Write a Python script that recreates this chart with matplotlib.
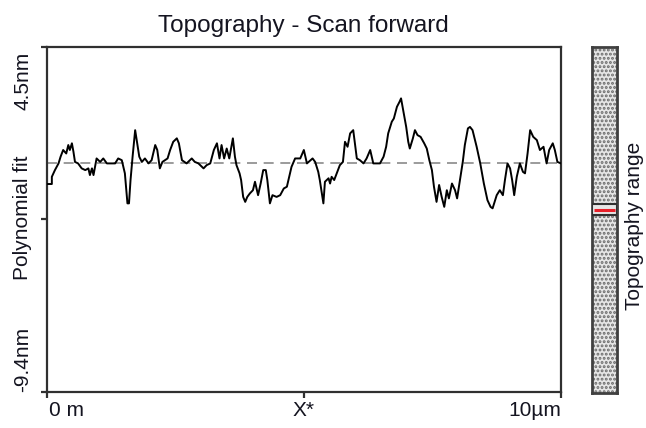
import matplotlib
matplotlib.use("Agg")
import matplotlib.pyplot as plt
from matplotlib.patches import Rectangle

# ---- data ----
x_um = [0.00, 0.10, 0.10, 0.16, 0.23, 0.27, 0.32, 0.38, 0.42, 0.45, 0.49, 0.52, 0.55, 0.61, 0.68,
        0.75, 0.81, 0.84, 0.88, 0.91, 0.94, 0.97, 1.04, 1.10, 1.17, 1.33, 1.39, 1.46, 1.49, 1.52,
        1.57, 1.60, 1.63, 1.67, 1.72, 1.75, 1.80, 1.85, 1.91, 1.98, 2.04, 2.11, 2.15, 2.20, 2.25,
        2.30, 2.35, 2.40, 2.46, 2.53, 2.57, 2.63, 2.72, 2.82, 2.88, 2.95, 3.05, 3.11, 3.18, 3.25,
        3.31, 3.36, 3.40, 3.45, 3.50, 3.55, 3.62, 3.66, 3.69, 3.75, 3.78, 3.82, 3.86, 3.90, 3.95,
        4.01, 4.05, 4.11, 4.16, 4.21, 4.26, 4.29, 4.34, 4.39, 4.47, 4.54, 4.61, 4.67, 4.70, 4.76,
        4.83, 4.93, 5.00, 5.06, 5.17, 5.22, 5.28, 5.31, 5.35, 5.38, 5.41, 5.48, 5.51, 5.54, 5.59,
        5.64, 5.70, 5.76, 5.80, 5.85, 5.90, 5.96, 6.03, 6.09, 6.16, 6.22, 6.29, 6.35, 6.48, 6.55,
        6.60, 6.64, 6.71, 6.75, 6.81, 6.86, 6.89, 6.93, 6.99, 7.03, 7.06, 7.12, 7.16, 7.21, 7.27,
        7.34, 7.39, 7.44, 7.49, 7.53, 7.58, 7.63, 7.68, 7.73, 7.78, 7.82, 7.88, 7.94, 7.98, 8.04,
        8.09, 8.13, 8.19, 8.23, 8.28, 8.36, 8.43, 8.50, 8.57, 8.63, 8.67, 8.75, 8.81, 8.87, 8.91,
        8.96, 9.01, 9.05, 9.09, 9.14, 9.20, 9.26, 9.30, 9.35, 9.40, 9.46, 9.53, 9.59, 9.66, 9.72,
        9.77, 9.84, 9.88, 9.93, 10.00]
height_nm = [-0.83, -0.83, -0.54, -0.27, 0.00, 0.27, 0.54, 0.40, 0.74, 0.54, 0.81, 0.47, 0.06, 0.00, -0.20,
             -0.27, -0.20, -0.47, -0.20, -0.47, -0.14, 0.20, 0.06, 0.20, 0.00, 0.00, 0.20, 0.13, -0.14, -0.40,
             -1.61, -1.61, -0.67, 0.27, 1.34, 0.94, 0.27, 0.06, 0.20, 0.00, 0.13, 0.74, 0.54, -0.20, 0.06,
             0.13, 0.20, 0.54, 0.87, 1.01, 0.81, 0.13, 0.00, 0.20, 0.06, 0.00, -0.20, -0.07, 0.00, 0.54,
             0.81, 0.20, 0.74, 0.20, 0.60, 0.20, 1.01, 0.27, -0.07, -0.40, -0.67, -1.35, -1.55, -1.35, -1.21,
             -1.08, -0.74, -1.28, -0.81, -0.27, -0.27, -0.67, -1.61, -1.28, -1.35, -1.28, -1.01, -0.94, -0.67, -0.14,
             0.20, 0.20, 0.54, 0.00, 0.20, 0.06, -0.34, -0.67, -1.21, -1.61, -0.74, -0.60, -0.81, -0.54, -0.67,
             -0.40, -0.07, 0.06, 0.87, 0.67, 1.21, 1.34, 0.20, 0.13, 0.00, 0.20, 0.54, 0.00, 0.00, 0.27,
             0.67, 1.21, 1.68, 1.81, 2.28, 2.48, 2.62, 2.15, 1.47, 0.87, 0.60, 1.01, 1.34, 1.14, 1.07,
             0.81, 0.60, 0.13, -0.27, -0.94, -1.55, -0.87, -1.35, -1.75, -1.08, -1.41, -0.81, -1.08, -1.41, -0.60,
             0.06, 0.74, 1.41, 1.47, 1.34, 0.67, 0.00, -0.81, -1.48, -1.75, -1.81, -1.28, -1.08, -1.28, -0.67,
             0.00, -0.20, -0.67, -1.28, -0.54, 0.00, -0.34, -0.40, 0.40, 1.34, 1.07, 0.94, 0.54, 0.67, 0.00,
             0.54, 0.81, 0.54, 0.06, 0.00]
fit_level_nm = -0.19          # polynomial fit (dashed line)
y_top, y_bottom = 4.5, -9.4    # axis range in nm
x_max = 10.0
y_tick_labels = ["4.5nm", "-9.4nm"]
x_tick_labels = ["0 m", "X*", "10µm"]
title = "Topography - Scan forward"
range_marker = 0.53            # position of current range on the topography-range bar

plt.rcParams['font.family'] = ['Liberation Sans', 'DejaVu Sans']
plt.rcParams['hatch.linewidth'] = 1.4
W, H = 646, 428
fig = plt.figure(figsize=(W / 100, H / 100), dpi=100)
fig.patch.set_facecolor('white')

def fx(px):
    return px / W

def fy(py):
    return 1 - py / H

L, R, T, B = 46.7, 561, 47, 392
ax = fig.add_axes([fx(L), fy(B), fx(R) - fx(L), fy(T) - fy(B)])
ax.set_xlim(0, x_max)
ax.set_ylim(y_bottom, y_top)

ax.plot(x_um, [h + fit_level_nm for h in height_nm], color='black', lw=1.4, zorder=3)
ax.axhline(fit_level_nm, color='#8a8a8a', lw=1.2, dashes=(6, 4), zorder=2)

for s in ax.spines.values():
    s.set_color('#303030')
    s.set_linewidth(1.6)
ax.set_xticks([0, x_max / 2, x_max])
ax.set_yticks([y_bottom, (y_top + y_bottom) / 2, y_top])
ax.tick_params(length=4.5, width=1.6, color='#303030', direction='out',
               labelbottom=False, labelleft=False)

fs = 15
tc = '#141420'
# y tick labels and y label
fig.text(fx(23), fy(52), y_tick_labels[0], rotation=90, ha='center', va='top', fontsize=fs, color=tc)
fig.text(fx(23), fy(392), y_tick_labels[1], rotation=90, ha='center', va='bottom', fontsize=fs, color=tc)
fig.text(fx(23), fy(218), "Polynomial fit", rotation=90, ha='center', va='center', fontsize=fs, color=tc)
# x tick labels
fig.text(fx(49), fy(416), x_tick_labels[0], ha='left', va='baseline', fontsize=fs, color=tc)
fig.text(fx((L + R) / 2), fy(416), x_tick_labels[1], ha='center', va='baseline', fontsize=fs, color=tc)
fig.text(fx(561), fy(416), x_tick_labels[2], ha='right', va='baseline', fontsize=fs, color=tc)
# title
fig.text(fx((L + R) / 2), fy(32), title, ha='center', va='baseline', fontsize=17.5, color=tc)

# topography range bar
cax = fig.add_axes([fx(592), fy(393), fx(617) - fx(592), fy(47) - fy(393)])
cax.set_xlim(0, 1)
cax.set_ylim(0, 1)
cax.set_xticks([])
cax.set_yticks([])
cax.add_patch(Rectangle((0, 0), 1, 1, facecolor='#e6e6e6', edgecolor='#6a6a6a',
                        hatch='....', lw=0, zorder=1))
for s in cax.spines.values():
    s.set_color('#404040')
    s.set_linewidth(2.0)
cax.add_patch(Rectangle((0, range_marker - 0.015), 1, 0.03, facecolor='#e6e6e6',
                        edgecolor='#303030', lw=1.5, zorder=3))
cax.plot([0.08, 0.92], [range_marker, range_marker], color='#e8202a', lw=2.2, zorder=4,
         solid_capstyle='butt')
fig.text(fx(634), fy(226), "Topography range", rotation=90, ha='center', va='center',
         fontsize=fs, color=tc)

fig.savefig('out.png', dpi=100, facecolor='white')
